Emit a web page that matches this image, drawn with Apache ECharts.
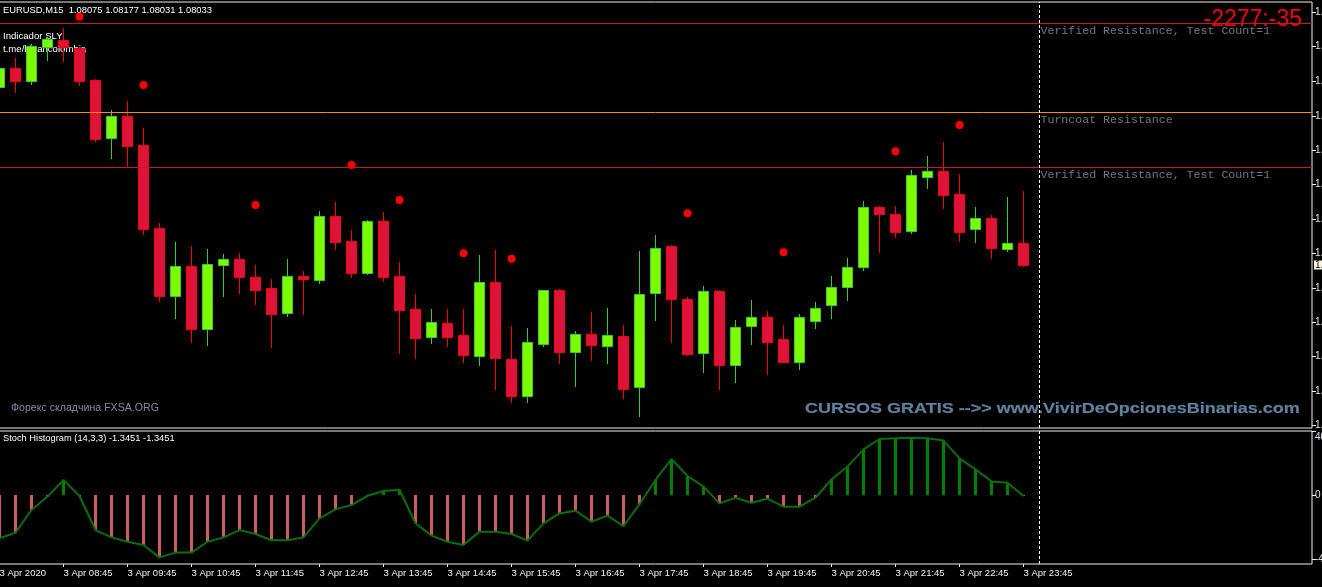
<!DOCTYPE html>
<html><head><meta charset="utf-8">
<script src="https://cdn.jsdelivr.net/npm/echarts@6/dist/echarts.min.js"></script>
<style>html,body{margin:0;padding:0;background:#000;}#c{width:1322px;height:587px;}</style>
</head><body><div id="c"></div>
<script>
// ---- data (EURUSD M15, 3 Apr 2020) ----
const times = ["07:45","08:00","08:15","08:30","08:45","09:00","09:15","09:30","09:45","10:00","10:15","10:30","10:45","11:00","11:15","11:30","11:45","12:00","12:15","12:30","12:45","13:00","13:15","13:30","13:45","14:00","14:15","14:30","14:45","15:00","15:15","15:30","15:45","16:00","16:15","16:30","16:45","17:00","17:15","17:30","17:45","18:00","18:15","18:30","18:45","19:00","19:15","19:30","19:45","20:00","20:15","20:30","20:45","21:00","21:15","21:30","21:45","22:00","22:15","22:30","22:45","23:00","23:15","23:30","23:45"];
const opens  = [1.08381,1.08417,1.08392,1.08459,1.08472,1.08456,1.08394,1.08281,1.08324,1.08267,1.08106,1.07973,1.08031,1.07909,1.08032,1.08045,1.08010,1.07988,1.07940,1.08012,1.08004,1.08129,1.08080,1.08018,1.08118,1.08012,1.07947,1.07892,1.07919,1.07897,1.07856,1.07999,1.07849,1.07778,1.07878,1.07984,1.07863,1.07898,1.07874,1.07894,1.07795,1.07978,1.08070,1.07966,1.07861,1.07982,1.07837,1.07913,1.07932,1.07889,1.07844,1.07924,1.07954,1.07990,1.08029,1.08147,1.08132,1.08100,1.08205,1.08216,1.08171,1.08103,1.08125,1.08065,1.08075];
const highs  = [1.08421,1.08436,1.08464,1.08478,1.08495,1.08458,1.08395,1.08335,1.08353,1.08301,1.08115,1.08078,1.08070,1.08064,1.08055,1.08057,1.08033,1.08006,1.08045,1.08022,1.08138,1.08156,1.08101,1.08121,1.08136,1.08039,1.07976,1.07947,1.07947,1.07947,1.08053,1.08062,1.07914,1.07910,1.07985,1.07986,1.07904,1.07941,1.07949,1.07915,1.08060,1.08092,1.08072,1.07970,1.07992,1.07984,1.07926,1.07965,1.07944,1.07916,1.07937,1.07961,1.08012,1.08047,1.08158,1.08148,1.08148,1.08218,1.08246,1.08273,1.08211,1.08146,1.08131,1.08166,1.08177];
const lows   = [1.08378,1.08371,1.08387,1.08433,1.08431,1.08384,1.08275,1.08242,1.08226,1.08093,1.07963,1.07930,1.07882,1.07877,1.07973,1.07978,1.07957,1.07873,1.07934,1.07937,1.07998,1.08064,1.08010,1.08015,1.08002,1.07861,1.07852,1.07880,1.07874,1.07844,1.07837,1.07792,1.07766,1.07766,1.07874,1.07841,1.07796,1.07848,1.07841,1.07774,1.07739,1.07926,1.07882,1.07858,1.07825,1.07792,1.07805,1.07878,1.07820,1.07843,1.07830,1.07910,1.07930,1.07965,1.08024,1.08059,1.08088,1.08095,1.08184,1.08145,1.08080,1.08078,1.08047,1.08061,1.08031];
const closes = [1.08417,1.08392,1.08460,1.08473,1.08459,1.08392,1.08278,1.08324,1.08266,1.08103,1.07973,1.08031,1.07908,1.08035,1.08045,1.08010,1.07985,1.07937,1.08012,1.08006,1.08129,1.08078,1.08018,1.08118,1.08010,1.07946,1.07891,1.07921,1.07893,1.07858,1.07999,1.07852,1.07778,1.07882,1.07984,1.07864,1.07898,1.07876,1.07896,1.07792,1.07976,1.08066,1.07966,1.07859,1.07982,1.07838,1.07912,1.07932,1.07883,1.07844,1.07932,1.07950,1.07990,1.08029,1.08147,1.08133,1.08098,1.08208,1.08216,1.08170,1.08098,1.08125,1.08067,1.08075,1.08033];
const stoch  = [-27.1,-23.5,-9.4,-1.0,9.4,-0.6,-21.9,-26.5,-29.2,-31.3,-39.0,-36.0,-36.0,-29.2,-26.5,-21.9,-24.4,-28.3,-28.3,-26.5,-14.6,-9.0,-6.3,-0.5,2.5,3.3,-17.7,-25.4,-29.2,-31.3,-22.9,-22.9,-24.4,-28.5,-17.7,-11.5,-9.8,-16.7,-12.9,-19.4,-5.8,9.4,22.5,11.9,5.2,-5.2,-1.7,-4.8,-2.3,-7.3,-7.3,-1.7,9.8,17.7,28.5,35.0,35.4,35.8,35.4,34.0,22.9,16.0,8.5,7.7,-0.6];
const dotTimes  = ["09:00","10:00","11:45","13:15","14:00","15:00","15:45","18:30","20:00","21:45","22:45"];
const dotPrices = [1.08517,1.08384,1.08150,1.08228,1.08160,1.08056,1.08045,1.08134,1.08058,1.08255,1.08306];
const levelNames  = ["Verified Resistance, Test Count=1","Turncoat Resistance","Verified Resistance, Test Count=1"];
const levelPrices = [1.08505,1.08331,1.08224];
const levelColors = ["#c8143c","#ff8c00","#c8143c"];
const xTickLabels = ["3 Apr 2020","3 Apr 08:45","3 Apr 09:45","3 Apr 10:45","3 Apr 11:45","3 Apr 12:45","3 Apr 13:45","3 Apr 14:45","3 Apr 15:45","3 Apr 16:45","3 Apr 17:45","3 Apr 18:45","3 Apr 19:45","3 Apr 20:45","3 Apr 21:45","3 Apr 22:45","3 Apr 23:45"];
const priceTicks = [1.08526,1.08459,1.08392,1.08324,1.08257,1.08190,1.08123,1.08056,1.07988,1.07921,1.07854,1.07787,1.07720];
const stochTicks = [40,0,-40];
const symbolName = "EURUSD,M15";

// ---- build ----
const candleData = times.map((t,i)=>[i,opens[i],highs[i],lows[i],closes[i]]);
const stochData = times.map((t,i)=>[i,stoch[i]]);
const dotData = dotTimes.map((t,k)=>[times.indexOf(t),dotPrices[k]]);
const xTickPos = xTickLabels.map((s)=>Math.max(0,times.indexOf(s.slice(6))));
const cursorIdx = times.length; // next bar slot (dashed line)
const last = times.length-1;

const UP_FILL='#7cfc00', UP_LINE='#32cd32', DN_FILL='#dc143c', DN_LINE='#ff0000';
const FRAME='#f4efe4';
const FONT='"Liberation Sans", Arial, sans-serif';

function renderCandle(params, api){
  const x=api.value(0), o=api.value(1), h=api.value(2), l=api.value(3), c=api.value(4);
  const pO=api.coord([x,o]), pC=api.coord([x,c]), pH=api.coord([x,h]), pL=api.coord([x,l]);
  const cx=Math.round(pO[0]-0.5)+0.5;
  const up=c>=o;
  let t=Math.round(Math.min(pO[1],pC[1]))+0.5, b=Math.round(Math.max(pO[1],pC[1]))+0.5;
  if(b-t<1) b=t+1;
  const line=up?UP_LINE:DN_LINE, fill=up?UP_FILL:DN_FILL;
  return {type:'group',children:[
    {type:'line',shape:{x1:cx,y1:Math.round(pH[1]),x2:cx,y2:Math.round(pL[1])+1},style:{stroke:line,lineWidth:1}},
    {type:'rect',shape:{x:cx-5,y:t,width:10,height:b-t},style:{fill:fill,stroke:line,lineWidth:1}}
  ]};
}
function renderHist(params, api){
  const x=api.value(0), v=api.value(1);
  const p0=api.coord([x,0]), p1=api.coord([x,v]);
  const cx=Math.round(p0[0]-0.5)+0.5;
  const y0=Math.min(p0[1],p1[1]), y1=Math.max(p0[1],p1[1]);
  return {type:'rect',shape:{x:cx-1.5,y:y0,width:3,height:Math.max(y1-y0,0.5)},style:{fill:v>=0?'#008000':'#cd5c5c'}};
}

const XMIN=-0.03125, XMAX=82.03125;
const noLine={show:false,onZero:false};
const chart=echarts.init(document.getElementById('c'),null,{renderer:'canvas'});
chart.setOption({
  backgroundColor:'#000',
  animation:false,
  grid:[
    {left:-1,top:2,width:1313,height:426,show:true,borderColor:FRAME,borderWidth:1,backgroundColor:'transparent',containLabel:false,outerBoundsMode:'none'},
    {left:-1,top:431,width:1313,height:133,show:true,borderColor:FRAME,borderWidth:1,backgroundColor:'transparent',containLabel:false,outerBoundsMode:'none'}
  ],
  xAxis:[
    {type:'value',gridIndex:0,min:XMIN,max:XMAX,axisLine:noLine,axisTick:{show:false},axisLabel:{show:false},splitLine:{show:false}},
    {type:'value',gridIndex:1,min:XMIN,max:XMAX,position:'bottom',
      axisLine:noLine,splitLine:{show:false},
      axisTick:{show:true,length:3,lineStyle:{color:FRAME},customValues:xTickPos},
      axisLabel:{show:true,customValues:xTickPos,color:'#f0f0f0',fontFamily:FONT,fontSize:9.5,margin:4,align:'left',
        formatter:(v)=>{const k=xTickPos.indexOf(Math.round(v));return k>=0?xTickLabels[k]:'';}}}
  ],
  yAxis:[
    {type:'value',gridIndex:0,position:'right',min:1.07715,max:1.08546,
      axisLine:noLine,splitLine:{show:false},
      axisTick:{show:true,length:4,lineStyle:{color:FRAME},customValues:priceTicks},
      axisLabel:{show:true,customValues:priceTicks,color:'#dde3ea',fontFamily:FONT,fontSize:10,margin:3,
        formatter:(v)=>v.toFixed(5)}},
    {type:'value',gridIndex:1,position:'right',min:-43.125,max:40,
      axisLine:noLine,splitLine:{show:false},
      axisTick:{show:true,length:4,lineStyle:{color:FRAME},customValues:stochTicks},
      axisLabel:{show:true,customValues:stochTicks,color:'#dde3ea',fontFamily:FONT,fontSize:10,margin:3,
        formatter:(v)=>v===stochTicks[0]?'{t|'+v+'}':String(v),
        rich:{t:{color:'#dde3ea',fontFamily:FONT,fontSize:10,padding:[12,0,0,0]}}}}
  ],
  series:[
    {type:'custom',name:'candles',xAxisIndex:0,yAxisIndex:0,renderItem:renderCandle,data:candleData,clip:true,z:3,
      encode:{x:0,y:[1,2,3,4]}},
    {type:'scatter',name:'levels',xAxisIndex:0,yAxisIndex:0,symbolSize:0,z:4,
      data:levelPrices.map((p,k)=>({value:[cursorIdx,p],label:{show:true,position:'right',distance:1,offset:[0,8],
        formatter:levelNames[k],color:'#8a93a0',fontFamily:'"Liberation Mono","Courier New",monospace',fontSize:11.6}})),
      markLine:{silent:true,symbol:'none',animation:false,precision:6,
        data:[
          ...levelPrices.map((p,k)=>({yAxis:p,lineStyle:{color:levelColors[k],width:1,type:'solid'},label:{show:false}})),
          {xAxis:cursorIdx,lineStyle:{color:'#ffffff',width:1,type:[3,2]},label:{show:false}},
          {yAxis:closes[last],lineStyle:{color:'rgba(0,0,0,0)',width:1},
            label:{show:true,position:'end',distance:2,formatter:closes[last].toFixed(5),color:'#000',
              backgroundColor:'#fff3dc',padding:[0,1,0,1],fontFamily:FONT,fontSize:10,lineHeight:9}}
        ]}},
    {type:'scatter',name:'dots',xAxisIndex:0,yAxisIndex:0,symbol:'circle',symbolSize:8,
      itemStyle:{color:'#ff0000',opacity:1},data:dotData,z:5},
    {type:'custom',name:'hist',xAxisIndex:1,yAxisIndex:1,renderItem:renderHist,data:stochData,clip:true,z:2,
      encode:{x:0,y:1}},
    {type:'line',name:'stochLine',xAxisIndex:1,yAxisIndex:1,data:stochData,symbol:'none',
      lineStyle:{color:'#087008',width:2},z:3,
      markLine:{silent:true,symbol:'none',animation:false,label:{show:false},precision:6,
        data:[{xAxis:cursorIdx,lineStyle:{color:'#ffffff',width:1,type:[3,2]}}]}}
  ],
  graphic:[
    {type:'text',left:3,top:6,style:{text:symbolName+'  '+opens[last].toFixed(5)+' '+highs[last].toFixed(5)+' '+lows[last].toFixed(5)+' '+closes[last].toFixed(5),fill:'#ffffff',font:'9.4px '+FONT}},
    {type:'text',left:3,top:31,style:{text:'Indicador SLY',fill:'#ffffff',font:'9.6px '+FONT}},
    {type:'text',left:3,top:44,style:{text:'t.me/binancolombia',fill:'#ffffff',font:'9.6px '+FONT}},
    {type:'text',right:20,top:8,style:{text:'-2277:-35',fill:'#ff0000',font:'23px '+FONT}},
    {type:'text',left:11,top:403,style:{text:'Форекс складчина FXSA.ORG',fill:'#7d8ea6',font:'10.6px '+FONT}},
    {type:'text',x:805,y:409,scaleX:1.2,style:{text:'CURSOS GRATIS -->> www.VivirDeOpcionesBinarias.com',fill:'#60809e',stroke:'#2a3a4a',lineWidth:0.5,verticalAlign:'middle',align:'left',font:'bold 15px '+FONT}},
    {type:'text',left:3,top:434,style:{text:'Stoch Histogram (14,3,3) -1.3451 -1.3451',fill:'#ffffff',font:'9.3px '+FONT}}
  ]
});
</script></body></html>
